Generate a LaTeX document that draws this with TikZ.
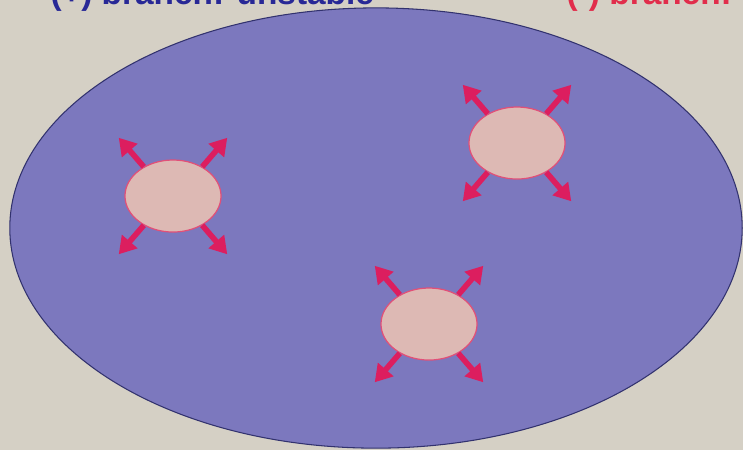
\documentclass[tikz,border=0pt]{standalone}
\usepackage{fontspec}
\setmainfont{Liberation Sans}
\usetikzlibrary{shapes.geometric,arrows.meta}
\definecolor{bg}{RGB}{213,208,197}
\definecolor{bigfill}{RGB}{124,120,190}
\definecolor{bigline}{RGB}{50,50,110}
\definecolor{cellfill}{RGB}{221,185,180}
\definecolor{cellline}{RGB}{225,80,120}
\definecolor{arrowc}{RGB}{220,30,95}
\definecolor{bluetxt}{RGB}{40,40,150}
\definecolor{redtxt}{RGB}{225,45,75}
\tikzset{
  bigcell/.style={ellipse, draw=bigline, line width=0.3pt, fill=bigfill, minimum width=7.32cm, minimum height=4.40cm, inner sep=0pt},
  cell/.style={ellipse, draw=cellline, line width=0.35pt, fill=cellfill, minimum width=0.96cm, minimum height=0.72cm, inner sep=0pt},
  outarrow/.style={draw=arrowc, line width=1.6pt, -{Triangle[length=4.8pt,width=5.6pt]}},
  lbl/.style={font=\bfseries\fontsize{9.5pt}{9.5pt}\selectfont, inner sep=0pt, anchor=base west}
}
\begin{document}
\begin{tikzpicture}[x=0.01cm,y=-0.01cm]
\useasboundingbox (0,0) rectangle (743,450);
\fill[bg] (0,0) rectangle (743,450);
\begin{scope}
\clip (0,0) rectangle (743,450);
\node[lbl, text=bluetxt] (tplus) at (50,4) {(+) branch: unstable};
\node[lbl, text=redtxt] (tminus) at (566,4) {(-) branch:};
\node[bigcell] (big) at (376,228) {};
\end{scope}
\foreach \n/\x/\y in {c1/173/196, c2/517/143, c3/429/324}{
  \node[cell] (\n) at (\x,\y) {};
  \draw[outarrow] (\n.135) -- ++(-25,-29);
  \draw[outarrow] (\n.45) -- ++(25,-29);
  \draw[outarrow] (\n.225) -- ++(-25,29);
  \draw[outarrow] (\n.-45) -- ++(25,29);
}
\end{tikzpicture}
\end{document}
